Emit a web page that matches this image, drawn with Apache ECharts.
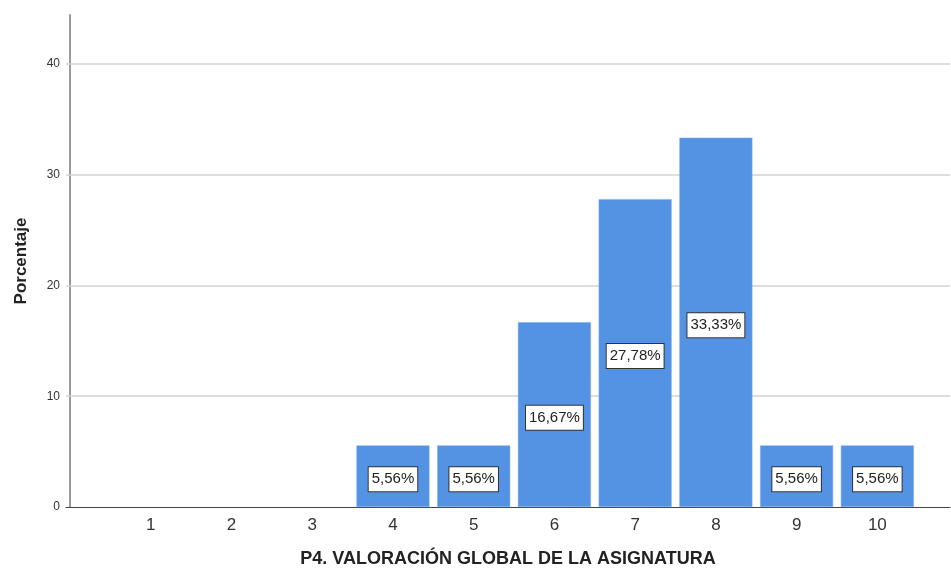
<!DOCTYPE html>
<html>
<head>
<meta charset="utf-8">
<script src="https://cdn.jsdelivr.net/npm/echarts@6/dist/echarts.min.js"></script>
<style>html,body{margin:0;padding:0;background:#fff}#c{width:951px;height:572px}</style>
</head>
<body>
<div id="c"></div>
<script>
const categories = [1, 2, 3, 4, 5, 6, 7, 8, 9, 10];
const percentages = [0, 0, 0, 5.56, 5.56, 16.67, 27.78, 33.33, 5.56, 5.56];
const yTicks = [0, 10, 20, 30, 40];
const xTitle = 'P4. VALORACIÓN GLOBAL DE LA ASIGNATURA';
const yTitle = 'Porcentaje';

const FONT = '"Liberation Sans", Arial, sans-serif';
const chart = echarts.init(document.getElementById('c'), null, {renderer: 'canvas'});

const barData = categories.map((c, i) => ({
  value: [c, percentages[i]],
  label: {show: percentages[i] > 0},
  itemStyle: percentages[i] > 0 ? {} : {opacity: 0}
}));

chart.setOption({
  animation: false,
  backgroundColor: '#ffffff',
  grid: {left: 66, right: 1, top: 15, bottom: 65, outerBoundsMode: 'none', containLabel: false},
  xAxis: {
    type: 'value',
    min: -0.05,
    max: 10.9,
    name: xTitle,
    nameLocation: 'middle',
    nameGap: 43,
    nameTextStyle: {fontFamily: FONT, fontSize: 18, fontWeight: 'bold', color: '#222'},
    axisLine: {show: true, lineStyle: {color: '#444', width: 1}},
    axisTick: {show: false},
    splitLine: {show: false},
    axisLabel: {
      customValues: categories,
      fontFamily: FONT, fontSize: 17, color: '#333', margin: 10,
      formatter: v => String(v)
    }
  },
  yAxis: {
    type: 'value',
    min: 0,
    max: 44.4,
    name: yTitle,
    nameLocation: 'middle',
    nameGap: 36,
    nameRotate: 90,
    nameTextStyle: {fontFamily: FONT, fontSize: 17, fontWeight: 'bold', color: '#222'},
    axisLine: {show: true, lineStyle: {color: '#999', width: 2}},
    axisTick: {show: false},
    splitLine: {show: false},
    axisLabel: {
      customValues: yTicks,
      fontFamily: FONT, fontSize: 12, color: '#333', margin: 6
    }
  },
  series: [
    {
      type: 'line',
      data: [],
      silent: true,
      markLine: {
        silent: true,
        symbol: 'none',
        z: 1,
        label: {show: false},
        lineStyle: {color: '#d2d2d2', width: 1.5, type: 'solid'},
        data: yTicks.filter(v => v > 0).map(v => ({yAxis: v}))
      }
    },
    {
      type: 'bar',
      z: 3,
      barWidth: 73,
      data: barData,
      itemStyle: {color: '#5493e4', borderColor: '#7aaaf0', borderWidth: 0.5},
      label: {
        show: true,
        position: 'inside',
        offset: [0, 3],
        formatter: p => p.value[1].toFixed(2).replace('.', ',') + '%',
        fontFamily: FONT,
        fontSize: 15,
        color: '#222',
        backgroundColor: '#ffffff',
        borderColor: '#333',
        borderWidth: 1,
        padding: [5, 3, 4, 3]
      }
    }
  ]
});
</script>
</body>
</html>
